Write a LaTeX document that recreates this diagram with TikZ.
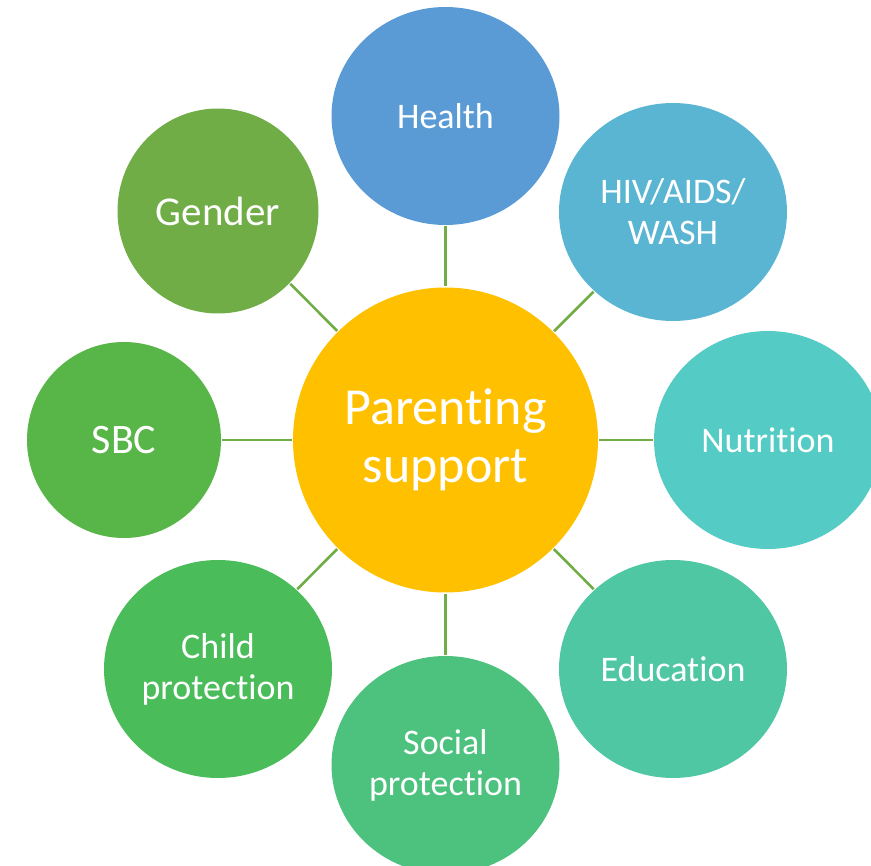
\documentclass[tikz,border=0pt]{standalone}
\usepackage{fontspec}
\setmainfont[Ligatures=NoCommon]{Carlito}
\usetikzlibrary{shapes.geometric}
\definecolor{cCenter}{HTML}{FFC000}
\definecolor{cHealth}{HTML}{5B9BD5}
\definecolor{cHiv}{HTML}{5AB5D2}
\definecolor{cNut}{HTML}{55CBC5}
\definecolor{cEdu}{HTML}{50C7A3}
\definecolor{cSoc}{HTML}{4DC17E}
\definecolor{cChild}{HTML}{4BBC5A}
\definecolor{cSbc}{HTML}{58B548}
\definecolor{cGender}{HTML}{70AD47}
\definecolor{cLine}{HTML}{70AD47}
\begin{document}
\begin{tikzpicture}[x=1pt,y=-1pt,
  bubble/.style={ellipse,inner sep=0pt,draw=none,text=white,align=center,
    minimum width=228pt,minimum height=218pt,
    font=\fontsize{36}{41}\selectfont},
  hub/.style={circle,inner sep=0pt,draw=none,fill=cCenter,text=white,align=center,
    minimum size=305pt,font=\fontsize{52}{58}\selectfont},
  link/.style={draw=cLine,line width=2.6pt}]
\useasboundingbox (0,0) rectangle (871,866);
\clip (0,0) rectangle (871,866);
\node[hub] (c) at (445.5,440) {Parenting\\support};
\node[bubble,fill=cHealth] (health) at (445.5,116) {Health};
\node[bubble,fill=cHiv] (hiv) at (673,212) {HIV/AIDS/\\WASH};
\node[bubble,fill=cNut] (nut) at (768,440) {Nutrition};
\node[bubble,fill=cEdu] (edu) at (673,669) {Education};
\node[bubble,fill=cSoc] (soc) at (445.5,765) {Social\\protection};
\node[bubble,fill=cChild] (child) at (218,669) {Child\\protection};
\node[bubble,fill=cSbc,minimum width=194pt,minimum height=196pt,
  font=\fontsize{42}{46}\selectfont] (sbc) at (124,440) {SBC};
\node[bubble,fill=cGender,minimum width=201pt,minimum height=205pt,
  font=\fontsize{41}{46}\selectfont] (gender) at (218,211) {Gender};
\foreach \n in {health,hiv,nut,edu,soc,child,sbc,gender}
  \draw[link,shorten <=1pt,shorten >=1pt] (c) -- (\n);
\end{tikzpicture}
\end{document}
